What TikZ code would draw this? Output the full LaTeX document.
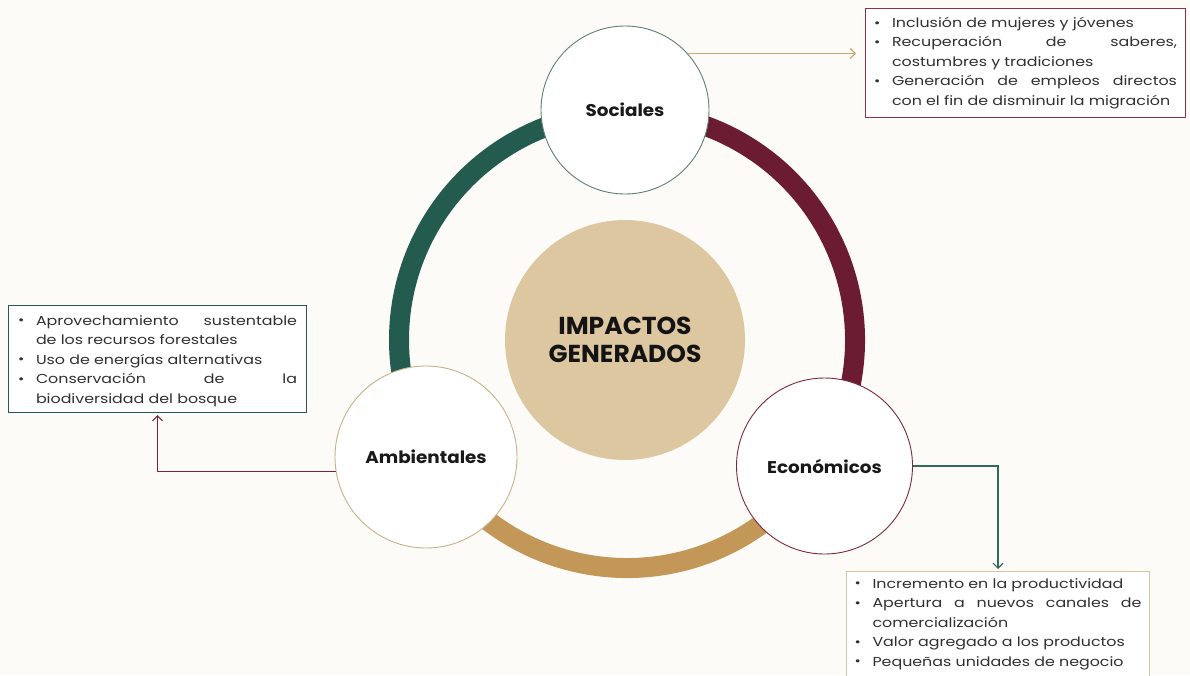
\documentclass[tikz,border=0pt]{standalone}
\usepackage{fontspec}
\setmainfont{Poppins}
\newfontfamily\listfont[FakeStretch=1.22]{Poppins}
\newfontfamily\labfont[FakeStretch=1.08]{Poppins}
\newfontfamily\titfont[FakeStretch=1.02]{Poppins}
\usetikzlibrary{arrows.meta,calc}
\definecolor{bgc}{HTML}{FDFBF8}
\definecolor{gob}{HTML}{235B4E}
\definecolor{mar}{HTML}{6B1C33}
\definecolor{gold}{HTML}{C39758}
\definecolor{tan}{HTML}{DCC7A1}
\definecolor{boxmar}{HTML}{8B3346}
\definecolor{boxtan}{HTML}{D6C4A0}
\definecolor{arrtan}{HTML}{CBA870}
\definecolor{arrmar}{HTML}{7B2236}
\definecolor{arrgrn}{HTML}{2E6B5A}
\definecolor{socb}{HTML}{5F7F72}
\definecolor{ambb}{HTML}{C9B08A}
\definecolor{ecob}{HTML}{7A2A3B}
\definecolor{txt}{HTML}{303030}
\newcommand{\itm}[1]{\noindent\hangindent=18pt\hangafter=1\makebox[18pt][l]{\raisebox{0.3pt}{\fontsize{12.5}{12}\selectfont\textbullet}}#1\par}
\begin{document}
\begin{tikzpicture}[x=1pt,y=-1pt,
  ring/.style={line width=20pt},
  topic/.style={circle,fill=white,line width=0.9pt,font=\labfont\fontsize{17}{20}\selectfont\bfseries,text=black!90},
  listbox/.style={draw,line width=1pt,fill=white,align=justify,text=txt,font=\listfont\fontsize{13}{19.5}\selectfont,inner ysep=4pt},
  conn/.style={line width=1.1pt,-{Straight Barb[length=5pt,width=10pt,line width=1.1pt]}}
]
\useasboundingbox[fill=bgc] (0,0) rectangle (1190,675);
\coordinate (rc) at (627,340);
% ring
\draw[ring,gob] (rc) ++(-90:228) arc[start angle=-90,end angle=-210,radius=228];
\draw[ring,mar] (rc) ++(30:228) arc[start angle=30,end angle=-90,radius=228];
\draw[ring,gold] (rc) ++(-210:228) arc[start angle=-210,end angle=-330,radius=228];
% centre
\node[circle,fill=tan,minimum size=240pt,align=center,font=\titfont\fontsize{24.5}{27.5}\selectfont\bfseries,text=black!92] (ctr) at (625,340) {IMPACTOS\\GENERADOS};
% topic circles
\node[topic,draw=socb,minimum size=168pt] (soc) at (625,110) {Sociales};
\node[topic,draw=ambb,minimum size=182pt] (amb) at (426,457) {Ambientales};
\node[topic,draw=ecob,minimum size=176pt] (eco) at (824.5,466) {Económicos};
% list boxes
\node[listbox,draw=boxmar,anchor=north west,inner xsep=8.5pt,text width=303pt,minimum height=109pt] (tr) at (865,8) {%
\itm{Inclusión de mujeres y jóvenes}
\itm{Recuperación de saberes,\linebreak costumbres y tradiciones}
\itm{Generación de empleos directos\linebreak con el fin de disminuir la migración}};
\node[listbox,draw=gob,anchor=north west,inner xsep=9.5pt,text width=279pt,minimum height=107pt] (lb) at (8,305) {%
\itm{Aprovechamiento sustentable\linebreak de los recursos forestales}
\itm{Uso de energías alternativas}
\itm{Conservación de la\linebreak biodiversidad del bosque}
\vspace*{-4pt}};
\node[listbox,draw=boxtan,anchor=north west,inner xsep=8pt,text width=287pt,minimum height=105pt] (br) at (846,571) {%
\itm{Incremento en la productividad}
\itm{Apertura a nuevos canales de\linebreak comercialización}
\itm{Valor agregado a los productos}
\itm{Pequeñas unidades de negocio}};
% connectors
\draw[conn,arrtan,shorten >=9pt] (soc.42.7) -- (soc.42.7 -| tr.west);
\draw[conn,arrmar,shorten >=2pt] (amb.189.5) -| (lb.south);
\draw[conn,arrgrn,shorten >=2pt] (eco.east) -| (br.north);
\end{tikzpicture}
\end{document}
